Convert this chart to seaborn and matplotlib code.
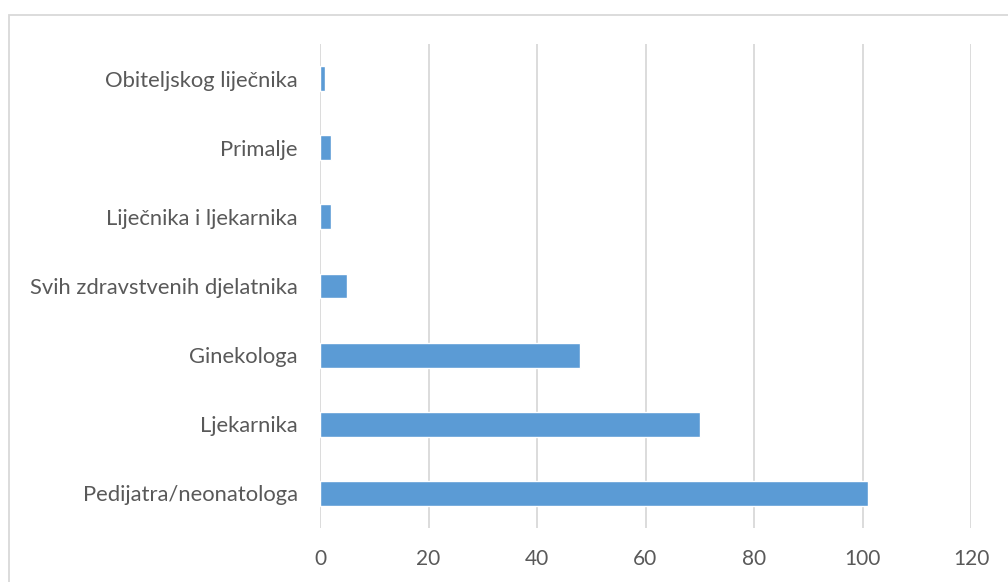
import matplotlib
matplotlib.use("Agg")
import matplotlib.pyplot as plt
import seaborn as sns
import pandas as pd
from matplotlib.patches import Rectangle

# podaci (od vrha prema dnu)
kategorije = ["Obiteljskog liječnika", "Primalje", "Liječnika i ljekarnika",
              "Svih zdravstvenih djelatnika", "Ginekologa", "Ljekarnika",
              "Pedijatra/neonatologa"]
vrijednosti = [1, 2, 2, 5, 48, 70, 101]
x_ticks = [0, 20, 40, 60, 80, 100, 120]

df = pd.DataFrame({"kategorija": kategorije, "broj": vrijednosti})

sns.set_style("white")
plt.rcParams['font.family'] = ['Lato', 'DejaVu Sans']

fig = plt.figure(figsize=(10.08, 5.82), dpi=100)
ax = fig.add_axes([320 / 1008, 1 - 528 / 582, 651 / 1008, 484 / 582])

sns.barplot(data=df, x="broj", y="kategorija", order=kategorije, orient="h",
            color="#5B9BD5", saturation=1, width=0.36, ax=ax)

ax.set_xlim(0, 120)
ax.set_xticks(x_ticks)
ax.set_xlabel("")
ax.set_ylabel("")
ax.grid(axis="x", color="#D9D9D9", linewidth=1.3)
ax.set_axisbelow(True)
for s in ax.spines.values():
    s.set_visible(False)
ax.tick_params(axis="x", length=0, pad=15, labelsize=15, labelcolor="#595959")
ax.tick_params(axis="y", length=0, pad=16, labelsize=15.8, labelcolor="#595959")

# okvir grafikona
fig.patches.append(Rectangle((9 / 1008, -0.1), 1.2, 1 - 15 / 582 + 0.1,
                             transform=fig.transFigure, fill=False,
                             edgecolor="#D9D9D9", linewidth=1.3))

plt.savefig("out.png", dpi=100)
